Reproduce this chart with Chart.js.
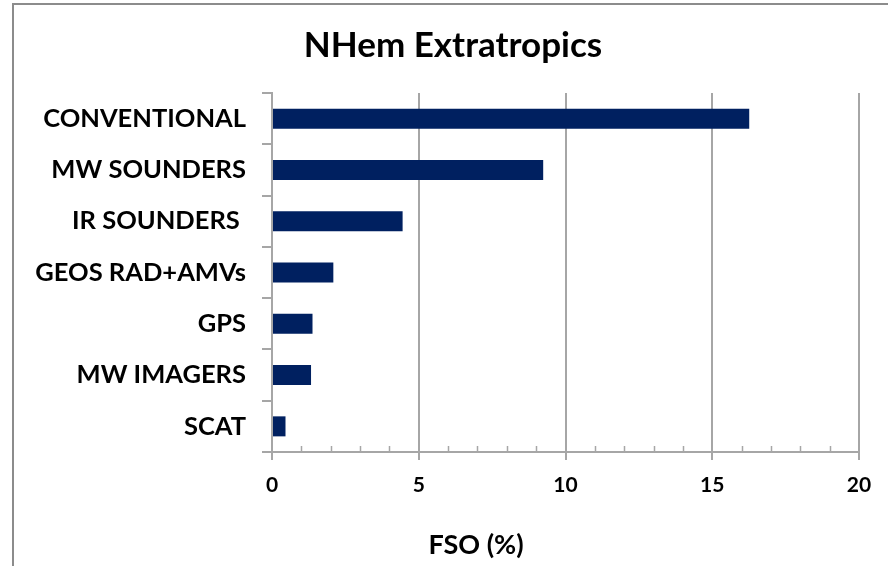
<!DOCTYPE html>
<html>
<head>
<meta charset="utf-8">
<script src="https://cdn.jsdelivr.net/npm/chart.js@4/dist/chart.umd.min.js"></script>
<style>
  html, body { margin: 0; padding: 0; background: #ffffff; }
  #wrap { width: 888px; height: 566px; }
</style>
</head>
<body>
<div id="wrap"><canvas id="fso" width="888" height="566"></canvas></div>
<script>
// Observation types and their forecast sensitivity share (%)
const categories = ['CONVENTIONAL', 'MW SOUNDERS', 'IR SOUNDERS ', 'GEOS RAD+AMVs', 'GPS', 'MW IMAGERS', 'SCAT'];
const fsoValues = [16.26, 9.24, 4.45, 2.09, 1.38, 1.33, 0.46];
const xTickLabels = [0, 5, 10, 15, 20];

const chartTitle = 'NHem Extratropics';
const xAxisTitle = 'FSO (%)';

const AXIS_GREY = '#a6a6a6';
const FONT = 'Lato, "Open Sans", sans-serif';

// Frame, headings and the small inward unit ticks on the value axis
const decorations = {
  id: 'decorations',
  beforeDraw(chart) {
    const ctx = chart.ctx;
    ctx.save();
    ctx.fillStyle = '#ffffff';
    ctx.fillRect(0, 0, chart.width, chart.height);
    ctx.strokeStyle = '#8c8c8c';
    ctx.lineWidth = 2;
    ctx.strokeRect(13, 4, 1000, 1000);
    ctx.restore();
  },
  afterDraw(chart) {
    const ctx = chart.ctx;
    const x = chart.scales.x;
    const area = chart.chartArea;
    ctx.save();
    ctx.strokeStyle = AXIS_GREY;
    ctx.lineWidth = 1.5;
    for (let v = x.min + 1; v < x.max; v++) {
      if (xTickLabels.includes(v)) continue;
      const px = Math.round(x.getPixelForValue(v)) + 0.5;
      ctx.beginPath();
      ctx.moveTo(px, area.bottom);
      ctx.lineTo(px, area.bottom - 6);
      ctx.stroke();
    }
    ctx.fillStyle = '#000000';
    ctx.textAlign = 'center';
    ctx.textBaseline = 'middle';
    ctx.font = 'bold 35px ' + FONT;
    ctx.fillText(chartTitle, 453, 46);
    ctx.font = 'bold 27px ' + FONT;
    ctx.fillText(xAxisTitle, 476, 545);
    ctx.restore();
  }
};

new Chart(document.getElementById('fso'), {
  type: 'bar',
  data: {
    labels: categories,
    datasets: [{
      data: fsoValues,
      backgroundColor: '#002060',
      borderWidth: 0,
      barPercentage: 0.39,
      categoryPercentage: 1.0
    }]
  },
  options: {
    indexAxis: 'y',
    responsive: false,
    animation: false,
    devicePixelRatio: 1,
    layout: { padding: { top: 93, right: 29, bottom: 0, left: 0 } },
    plugins: {
      legend: { display: false },
      tooltip: { enabled: false },
      title: { display: false }
    },
    scales: {
      x: {
        type: 'linear',
        min: 0,
        max: 20,
        afterFit(scale) { scale.height = 114; },
        ticks: {
          stepSize: 1,
          autoSkip: false,
          maxRotation: 0,
          padding: 13,
          color: '#000000',
          font: { family: FONT, size: 21, weight: 'bold' },
          callback: (v) => (xTickLabels.includes(v) ? String(v) : '')
        },
        grid: {
          drawOnChartArea: true,
          lineWidth: 2,
          tickLength: 8,
          color: (c) => (c.tick && c.tick.value !== 0 && xTickLabels.includes(c.tick.value)) ? AXIS_GREY : 'rgba(0,0,0,0)',
          tickColor: (c) => (c.tick && xTickLabels.includes(c.tick.value)) ? AXIS_GREY : 'rgba(0,0,0,0)'
        },
        border: { color: AXIS_GREY, width: 2 }
      },
      y: {
        type: 'category',
        afterFit(scale) { scale.width = 272; },
        ticks: {
          padding: 16,
          color: '#000000',
          font: { family: FONT, size: 25.5, weight: 'bold' }
        },
        grid: {
          offset: true,
          drawOnChartArea: false,
          tickLength: 10,
          lineWidth: 2,
          tickColor: AXIS_GREY
        },
        border: { color: AXIS_GREY, width: 2 }
      }
    }
  },
  plugins: [decorations]
});
</script>
</body>
</html>
